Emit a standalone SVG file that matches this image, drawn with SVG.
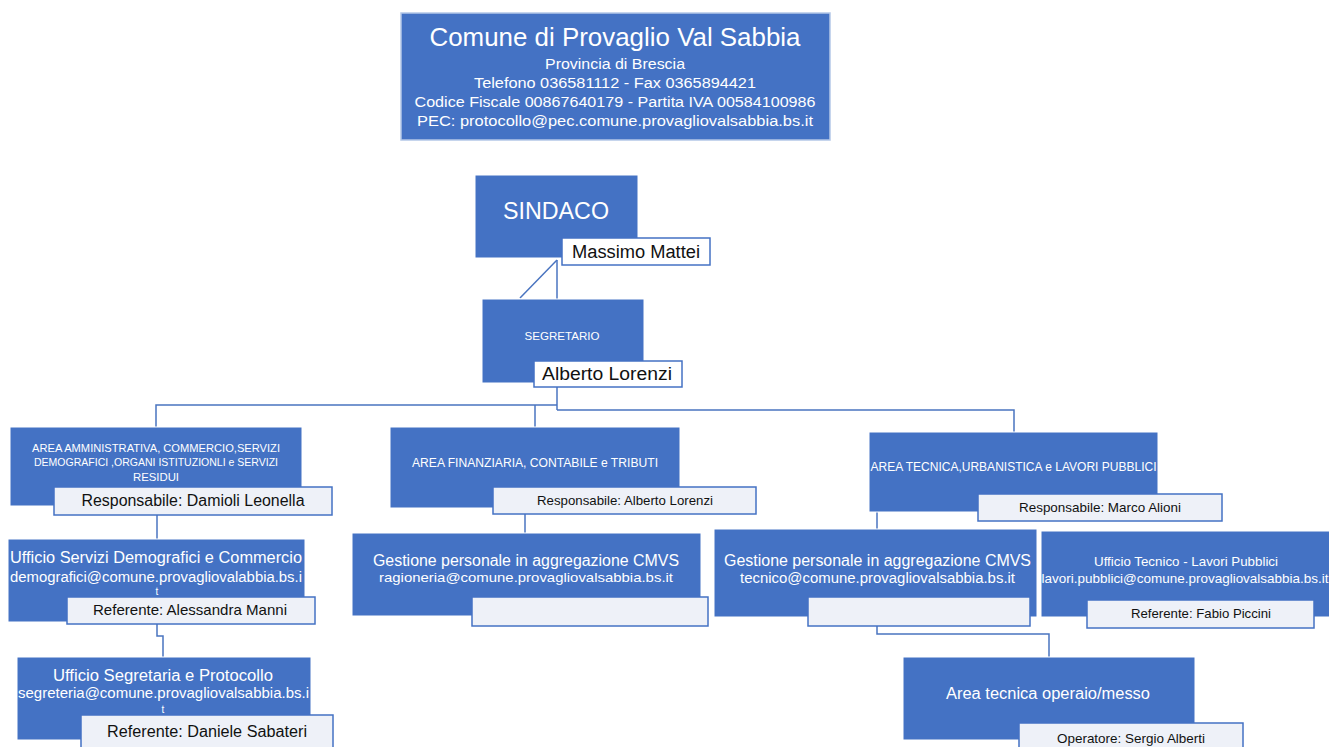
<svg xmlns="http://www.w3.org/2000/svg" width="1329" height="747" viewBox="0 0 1329 747">
<style>
text{font-family:"Liberation Sans",Arial,sans-serif;text-anchor:middle}
.box{fill:#4472c4;stroke:#ffffff;stroke-width:1}
.hdr{fill:#4472c4;stroke:#b4c7e7;stroke-width:1.5}
.lbl{fill:#eef1f8;stroke:#4472c4;stroke-width:1.5}
.lblw{fill:#ffffff;stroke:#4472c4;stroke-width:1.5}
.wt{fill:#ffffff}
.bk{fill:#111111}
.con{fill:none;stroke:#4a74c0;stroke-width:1.5}
</style>
<rect width="1329" height="747" fill="#ffffff"/>
<g id="connectors">
<path class="con" d="M557 260 L520 298"/>
<path class="con" d="M557 260 L557 299"/>
<path class="con" d="M557 387 L557 410"/>
<path class="con" d="M557 405 L156 405 L156 427"/>
<path class="con" d="M535 405 L535 427"/>
<path class="con" d="M557 410 L1014 410 L1014 432"/>
<path class="con" d="M157 515 L157 539"/>
<path class="con" d="M157 624 L157 636 L163 636 L163 657"/>
<path class="con" d="M525 514 L525 533"/>
<path class="con" d="M877 512 L877 529"/>
<path class="con" d="M877 626 L877 634 L1049 634 L1049 657"/>
</g>
<g id="header">
<rect class="hdr" x="401" y="13" width="429" height="127"/>
<text class="wt" x="615" y="46" font-size="26" textLength="371" lengthAdjust="spacingAndGlyphs">Comune di Provaglio Val Sabbia</text>
<text class="wt" x="615" y="69" font-size="15.5" textLength="140" lengthAdjust="spacingAndGlyphs">Provincia di Brescia</text>
<text class="wt" x="615" y="88" font-size="15.5" textLength="282" lengthAdjust="spacingAndGlyphs">Telefono 036581112 - Fax 0365894421</text>
<text class="wt" x="615" y="107" font-size="15.5" textLength="401" lengthAdjust="spacingAndGlyphs">Codice Fiscale 00867640179 - Partita IVA 00584100986</text>
<text class="wt" x="615" y="126" font-size="15.5" textLength="396" lengthAdjust="spacingAndGlyphs">PEC: protocollo@pec.comune.provagliovalsabbia.bs.it</text>
</g>
<g id="sindaco">
<rect class="box" x="475" y="175" width="163" height="83"/>
<text class="wt" x="556" y="219" font-size="23" textLength="106" lengthAdjust="spacingAndGlyphs">SINDACO</text>
<rect class="lblw" x="562" y="238" width="148" height="27"/>
<text class="bk" x="636" y="258" font-size="18" textLength="128" lengthAdjust="spacingAndGlyphs">Massimo Mattei</text>
</g>
<g id="segretario">
<rect class="box" x="482" y="299" width="162" height="84"/>
<text class="wt" x="562" y="340" font-size="11.5" textLength="75" lengthAdjust="spacingAndGlyphs">SEGRETARIO</text>
<rect class="lblw" x="534" y="361" width="148" height="26"/>
<text class="bk" x="607" y="380" font-size="18" textLength="130" lengthAdjust="spacingAndGlyphs">Alberto Lorenzi</text>
</g>
<g id="area-amministrativa">
<rect class="box" x="10" y="427" width="292" height="79"/>
<text class="wt" x="156" y="452" font-size="11" textLength="248" lengthAdjust="spacingAndGlyphs">AREA AMMINISTRATIVA, COMMERCIO,SERVIZI</text>
<text class="wt" x="156" y="466" font-size="11" textLength="244" lengthAdjust="spacingAndGlyphs">DEMOGRAFICI ,ORGANI ISTITUZIONLI e SERVIZI</text>
<text class="wt" x="156" y="481" font-size="11" textLength="46" lengthAdjust="spacingAndGlyphs">RESIDUI</text>
<rect class="lbl" x="54" y="487" width="278" height="28"/>
<text class="bk" x="193" y="506" font-size="16" textLength="223" lengthAdjust="spacingAndGlyphs">Responsabile: Damioli Leonella</text>
</g>
<g id="area-finanziaria">
<rect class="box" x="390" y="427" width="290" height="81"/>
<text class="wt" x="535" y="467" font-size="12" textLength="246" lengthAdjust="spacingAndGlyphs">AREA FINANZIARIA, CONTABILE e TRIBUTI</text>
<rect class="lbl" x="493" y="487" width="263" height="27"/>
<text class="bk" x="625" y="505" font-size="13" textLength="176" lengthAdjust="spacingAndGlyphs">Responsabile: Alberto Lorenzi</text>
</g>
<g id="area-tecnica">
<rect class="box" x="869" y="432" width="289" height="80"/>
<text class="wt" x="1013.5" y="471" font-size="12" textLength="286" lengthAdjust="spacingAndGlyphs">AREA TECNICA,URBANISTICA e LAVORI PUBBLICI</text>
<rect class="lbl" x="978" y="494" width="244" height="27"/>
<text class="bk" x="1100" y="512" font-size="13" textLength="162" lengthAdjust="spacingAndGlyphs">Responsabile: Marco Alioni</text>
</g>
<g id="ufficio-demografici">
<rect class="box" x="8" y="539" width="297" height="83"/>
<text class="wt" x="156" y="563" font-size="16" textLength="292" lengthAdjust="spacingAndGlyphs">Ufficio Servizi Demografici e Commercio</text>
<text class="wt" x="156" y="582" font-size="14" textLength="292" lengthAdjust="spacingAndGlyphs">demografici@comune.provagliovalabbia.bs.i</text>
<text class="wt" x="157" y="595" font-size="10">t</text>
<rect class="lbl" x="67" y="597" width="248" height="27"/>
<text class="bk" x="190" y="615" font-size="15" textLength="194" lengthAdjust="spacingAndGlyphs">Referente: Alessandra Manni</text>
</g>
<g id="ufficio-segreteria">
<rect class="box" x="17" y="657" width="294" height="83"/>
<text class="wt" x="163" y="681" font-size="16" textLength="220" lengthAdjust="spacingAndGlyphs">Ufficio Segretaria e Protocollo</text>
<text class="wt" x="163.5" y="698" font-size="14" textLength="291" lengthAdjust="spacingAndGlyphs">segreteria@comune.provagliovalsabbia.bs.i</text>
<text class="wt" x="163" y="713" font-size="10">t</text>
<rect class="lbl" x="81" y="715" width="252" height="36"/>
<text class="bk" x="207" y="737" font-size="16" textLength="200" lengthAdjust="spacingAndGlyphs">Referente: Daniele Sabateri</text>
</g>
<g id="gestione-finanziaria">
<rect class="box" x="352" y="533" width="349" height="83"/>
<text class="wt" x="526" y="566" font-size="16" textLength="306" lengthAdjust="spacingAndGlyphs">Gestione personale in aggregazione CMVS</text>
<text class="wt" x="526" y="582" font-size="13.5" textLength="294" lengthAdjust="spacingAndGlyphs">ragioneria@comune.provagliovalsabbia.bs.it</text>
<rect class="lbl" x="472" y="597" width="236" height="29"/>
</g>
<g id="gestione-tecnica">
<rect class="box" x="714" y="529" width="323" height="88"/>
<text class="wt" x="877.5" y="566" font-size="16" textLength="307" lengthAdjust="spacingAndGlyphs">Gestione personale in aggregazione CMVS</text>
<text class="wt" x="877.5" y="583" font-size="14" textLength="275" lengthAdjust="spacingAndGlyphs">tecnico@comune.provagliovalsabbia.bs.it</text>
<rect class="lbl" x="808" y="597" width="222" height="29"/>
</g>
<g id="ufficio-tecnico">
<rect class="box" x="1041" y="531" width="290" height="86"/>
<text class="wt" x="1186" y="566" font-size="13" textLength="184" lengthAdjust="spacingAndGlyphs">Ufficio Tecnico - Lavori Pubblici</text>
<text class="wt" x="1185" y="583" font-size="13" textLength="287" lengthAdjust="spacingAndGlyphs">lavori.pubblici@comune.provagliovalsabbia.bs.it</text>
<rect class="lbl" x="1087" y="600" width="227" height="28"/>
<text class="bk" x="1201" y="618" font-size="13" textLength="140" lengthAdjust="spacingAndGlyphs">Referente: Fabio Piccini</text>
</g>
<g id="area-operaio">
<rect class="box" x="903" y="657" width="292" height="83"/>
<text class="wt" x="1048" y="699" font-size="16" textLength="204" lengthAdjust="spacingAndGlyphs">Area tecnica operaio/messo</text>
<rect class="lbl" x="1019" y="723" width="224" height="30"/>
<text class="bk" x="1131" y="743" font-size="13" textLength="148" lengthAdjust="spacingAndGlyphs">Operatore: Sergio Alberti</text>
</g>
</svg>
